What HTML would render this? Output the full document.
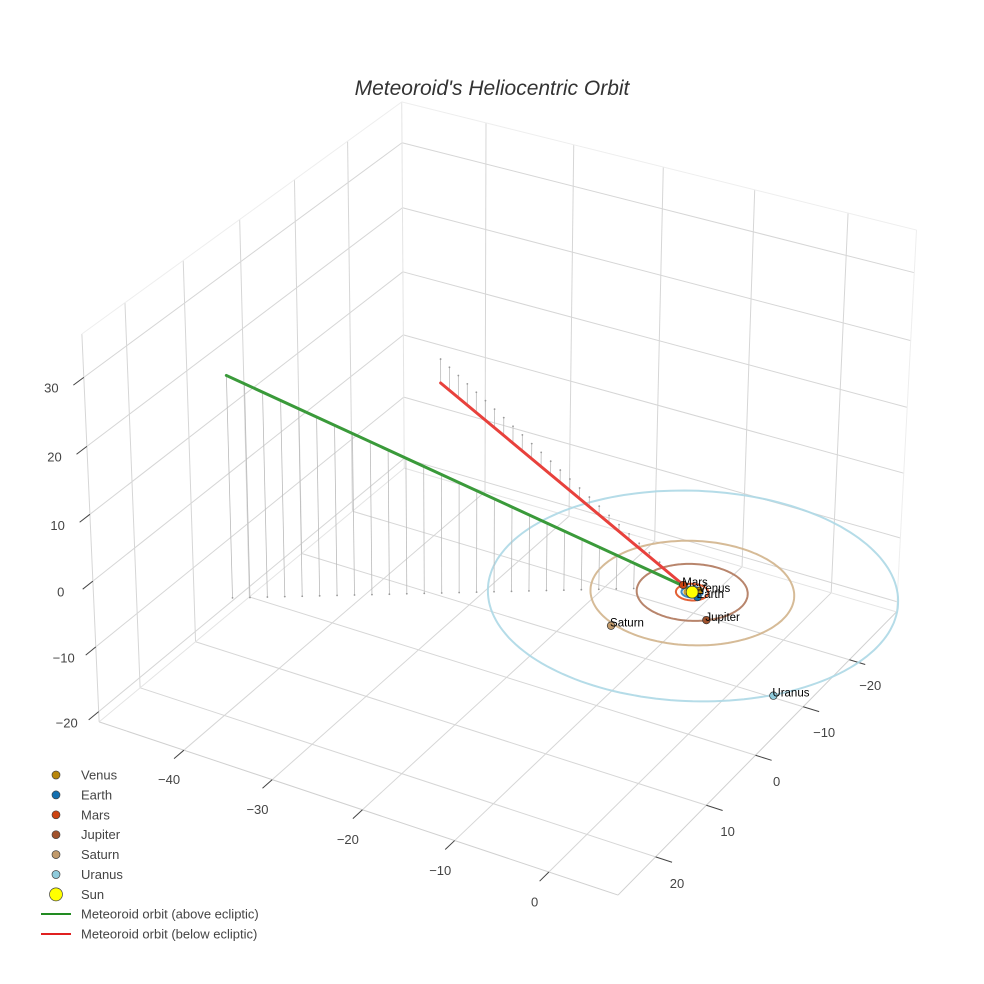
<!DOCTYPE html>
<html><head><meta charset="utf-8"><style>
html,body{margin:0;padding:0;background:#fff;}
svg{display:block;font-family:"Liberation Sans",sans-serif;}
</style></head><body>
<svg id="chart" width="984" height="984" viewBox="0 0 984 984" xmlns="http://www.w3.org/2000/svg">
<rect width="984" height="984" fill="#fff"/>
<text x="492" y="95" text-anchor="middle" font-size="21" font-style="italic" fill="#333">Meteoroid's Heliocentric Orbit</text>
<g id="grid"></g><g id="ticks"></g><g id="marks"></g>
<g id="legend"></g>
</svg>
<script>
// ---- data ----
const xTicks = [-40, -30, -20, -10, 0];
const yTicks = [-20, -10, 0, 10, 20];
const zTicks = [-20, -10, 0, 10, 20, 30];
const xRange = [-49.8, 7.2];
const yRange = [-30.5, 27.2];
const zRange = [-21.6, 36.2];
const planetNames = ["Venus", "Earth", "Mars", "Jupiter", "Saturn", "Uranus"];
const planetRadii = [0.72, 1.0, 1.52, 5.2, 9.54, 19.2];
const planetX = [0.47, 0.85, -1.33, 3.5, -3.64, 14.84];
const planetY = [-0.55, 0.53, -0.73, 3.8, 9.2, 12.37];
const planetColors = ["#b8860b", "#136fb0", "#cc4411", "#a0522d", "#c19a6b", "#8fcbdc"];
const orbitColors = ["#c8961e", "#2a7fc0", "#e05020", "#b0785c", "#d2b48c", "#add8e6"];
const sunPos = [0, 0, 0];
const greenStart = [-36.7, 23.0, 32.5];
const greenEnd = [-0.9, -0.5, 0.0];
const redStart = [-43.8, -27.9, -3.8];
const redEnd = [-0.2, -0.1, 0.0];

// ---- projection fit (box corners in normalized coords -> screen) ----
const corners = [
 [0,1,0,100,722],[1,1,0,618,895],[1,0,0,897,612],[0,0,0,403,468],
 [0,1,1,81,334],[0,0,1,403,102],[1,0,1,916,230]];
function solveP(){
  const A=[],b=[];
  corners.forEach(c=>{const[u,v,w,sx,sy]=c;
    A.push([u,v,w,1,0,0,0,0,-sx*u,-sx*v,-sx*w]);b.push(sx);
    A.push([0,0,0,0,u,v,w,1,-sy*u,-sy*v,-sy*w]);b.push(sy);});
  const n=11,M=[];
  for(let i=0;i<n;i++){M.push([]);for(let j=0;j<n;j++){let s=0;for(let k=0;k<A.length;k++)s+=A[k][i]*A[k][j];M[i].push(s+(i===j?1e-9:0));}
    let s=0;for(let k=0;k<A.length;k++)s+=A[k][i]*b[k];M[i].push(s);}
  for(let i=0;i<n;i++){let p=i;for(let r=i+1;r<n;r++)if(Math.abs(M[r][i])>Math.abs(M[p][i]))p=r;
    [M[i],M[p]]=[M[p],M[i]];for(let r=0;r<n;r++){if(r===i)continue;const f=M[r][i]/M[i][i];for(let c=i;c<=n;c++)M[r][c]-=f*M[i][c];}}
  return M.map((r,i)=>r[n]/r[i]);
}
const P=solveP();
function projN(u,v,w){const d=P[8]*u+P[9]*v+P[10]*w+1;
  return [(P[0]*u+P[1]*v+P[2]*w+P[3])/d,(P[4]*u+P[5]*v+P[6]*w+P[7])/d];}
const nu=x=>(x-xRange[0])/(xRange[1]-xRange[0]);
const nv=y=>(y-yRange[0])/(yRange[1]-yRange[0]);
const nw=z=>(z-zRange[0])/(zRange[1]-zRange[0]);
function proj(x,y,z){return projN(nu(x),nv(y),nw(z));}

const NS="http://www.w3.org/2000/svg";
function mk(tag,attrs,parent){const e=document.createElementNS(NS,tag);for(const k in attrs)e.setAttribute(k,attrs[k]);parent.appendChild(e);return e;}
function lineN(a,b,col,wd,parent){const p=projN(...a),q=projN(...b);
  return mk("line",{x1:p[0],y1:p[1],x2:q[0],y2:q[1],stroke:col,"stroke-width":wd},parent);}

const grid=document.getElementById("grid");
const GC="#d6d6d6";
xTicks.forEach(t=>{const l=lineN([nu(t),0,0],[nu(t),1,0],GC,1,grid);

});
yTicks.forEach(t=>{const l=lineN([0,nv(t),0],[1,nv(t),0],GC,1,grid);

});
yTicks.forEach(t=>{const l=lineN([0,nv(t),0],[0,nv(t),1],GC,1,grid);

});
zTicks.forEach(t=>{const l=lineN([0,0,nw(t)],[0,1,nw(t)],GC,1,grid);

});
xTicks.forEach(t=>{const l=lineN([nu(t),0,0],[nu(t),0,1],GC,1,grid);

});
zTicks.forEach(t=>{const l=lineN([0,0,nw(t)],[1,0,nw(t)],GC,1,grid);

});
[[[0,1,0],[1,1,0],"#d0d0d0"],[[1,1,0],[1,0,0],"#d0d0d0"],[[0,1,0],[0,0,0],"#e4e4e4"],[[0,0,0],[1,0,0],"#e4e4e4"],
 [[0,1,0],[0,1,1],"#d6d6d6"],[[0,0,0],[0,0,1],"#e4e4e4"],[[1,0,0],[1,0,1],"#eeeeee"],
 [[0,1,1],[0,0,1],"#eeeeee"],[[0,0,1],[1,0,1],"#eeeeee"]].forEach(e=>{const l=lineN(e[0],e[1],e[2],1,grid);

});

const tk=document.getElementById("ticks");
function tickLabel(a,b,dx,dy,txt,name){const p=projN(...b);
  const l=lineN(a,b,"#444",1,tk);
  
  
  const t=mk("text",{x:p[0]+dx,y:p[1]+dy,"text-anchor":"middle","dominant-baseline":"central","font-size":13,fill:"#444"},tk);
  t.textContent=String(txt).replace("-","\u2212");
  
  }
xTicks.forEach(t=>tickLabel([nu(t),1,0],[nu(t),1.03,0],-5,21,t,'x-tick'));
yTicks.forEach(t=>tickLabel([1,nv(t),0],[1.03,nv(t),0],5,21,t,'y-tick'));
zTicks.forEach(t=>tickLabel([0,1,nw(t)],[0,1.03,nw(t)],-22,3,t,'z-tick'));

const mg=document.getElementById("marks");
planetRadii.forEach((r,i)=>{let pts=[];for(let k=0;k<=180;k++){const a=k/180*2*Math.PI;const p=proj(r*Math.cos(a),r*Math.sin(a),0);pts.push(p[0].toFixed(1)+","+p[1].toFixed(1));}
  const o=mk("polyline",{points:pts.join(" "),fill:"none",stroke:orbitColors[i],"stroke-width":2,"stroke-opacity":0.9},mg);
  
  });
function meteor(s,e,col,name){const N=26;
  for(let i=0;i<24;i++){const t=i/N;const x=s[0]+(e[0]-s[0])*t,y=s[1]+(e[1]-s[1])*t,z=s[2]+(e[2]-s[2])*t;
    const p=proj(x,y,z),q=proj(x,y,0);
    const d=mk("line",{x1:p[0],y1:p[1],x2:q[0],y2:q[1],stroke:"#bbb","stroke-width":0.8},mg);
    
    
    const c=mk("circle",{cx:q[0],cy:q[1],r:0.9,fill:"#999"},mg);
    
    }
  const p=proj(...s),q=proj(...e);
  const l=mk("line",{x1:p[0],y1:p[1],x2:q[0],y2:q[1],stroke:col,"stroke-width":3,"stroke-linecap":"round"},mg);
  
  }
meteor(redStart,redEnd,"#e8413c","meteoroid-below");
meteor(greenStart,greenEnd,"#3a9a3a","meteoroid-above");
planetNames.forEach((n,i)=>{const p=proj(planetX[i],planetY[i],0);
  const c=mk("circle",{cx:p[0],cy:p[1],r:3.8,fill:planetColors[i],stroke:"#333","stroke-width":0.7},mg);
  
  
  const t=mk("text",{x:p[0]-1,y:p[1]-2,"dominant-baseline":"central","font-size":11.5,fill:"#000"},mg);
  t.textContent=n;
  
  });
const sp=proj(...sunPos);
const sun=mk("circle",{cx:sp[0],cy:sp[1],r:6,fill:"#ffff00",stroke:"#333","stroke-width":0.8},mg);



const lg=document.getElementById("legend");
const legNames=planetNames.concat(["Sun"]);
const legCols=planetColors.concat(["#ffff00"]);
legNames.forEach((n,i)=>{const y=775+i*19.9;
  const c=mk("circle",{cx:56,cy:y,r:n==="Sun"?6.5:4,fill:legCols[i],stroke:"#444","stroke-width":0.7},lg);
  
  
  const t=mk("text",{x:81,y:y,"dominant-baseline":"central","font-size":13,fill:"#444"},lg);
  t.textContent=n;
  
  });
[["Meteoroid orbit (above ecliptic)","#228b22",914],["Meteoroid orbit (below ecliptic)","#e02020",934]].forEach((d,i)=>{
  const l=mk("line",{x1:41,y1:d[2],x2:71,y2:d[2],stroke:d[1],"stroke-width":2},lg);
  
  
  const t=mk("text",{x:81,y:d[2],"dominant-baseline":"central","font-size":13,fill:"#444"},lg);
  t.textContent=d[0];
  
  });
</script>
</body></html>
